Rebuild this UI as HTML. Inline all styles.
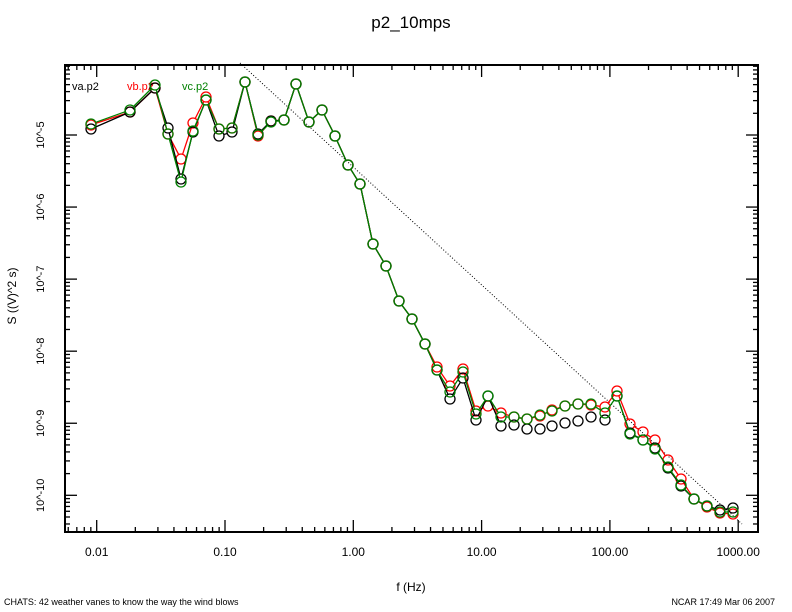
<!DOCTYPE html>
<html><head><meta charset="utf-8"><style>
html,body{margin:0;padding:0;background:#fff;}
svg{display:block;font-family:"Liberation Sans",sans-serif;}
</style></head><body>
<svg id="s" width="792" height="612" viewBox="0 0 792 612" xmlns="http://www.w3.org/2000/svg">
<rect width="792" height="612" fill="#fff"/>
<text x="411" y="28" font-size="17" text-anchor="middle">p2_10mps</text>
<text x="411" y="591" font-size="12" text-anchor="middle">f (Hz)</text>
<text transform="translate(16,296) rotate(-90)" font-size="12" text-anchor="middle">S ((V)^2 s)</text>
<text x="4" y="605" font-size="9">CHATS: 42 weather vanes to know the way the wind blows</text>
<text x="775" y="605" font-size="9" text-anchor="end">NCAR 17:49 Mar 06 2007</text>
<text x="72" y="90" font-size="11">va.p2</text>
<text x="127" y="90" font-size="11" fill="red">vb.p2</text>
<text x="182" y="90" font-size="11" fill="green">vc.p2</text>
<g id="g"></g>
</svg>
<script>
const NS="http://www.w3.org/2000/svg",g=document.getElementById('g');
function el(t,a){const e=document.createElementNS(NS,t);for(const k in a)e.setAttribute(k,a[k]);g.appendChild(e);return e;}
const L=65,R=758,T=65,B=532;
el('rect',{x:L,y:T,width:R-L,height:B-T,fill:'none',stroke:'#000','stroke-width':2});
const X0=96.7,DX=128.3;
for(let d=-3;d<=3;d++){for(let m=1;m<10;m++){const x=X0+(d+2+Math.log10(m))*DX;if(x<L||x>R)continue;const len=m==1?12:5;
el('line',{x1:x,y1:B,x2:x,y2:B-len,stroke:'#000','stroke-width':1.3});el('line',{x1:x,y1:T,x2:x,y2:T+len,stroke:'#000','stroke-width':1.3});}}
const xl=[["0.01",0.01],["0.10",0.1],["1.00",1],["10.00",10],["100.00",100],["1000.00",1000]];
xl.forEach(([s,v])=>{const t=el('text',{x:X0+(Math.log10(v)+2)*DX,y:556,'font-size':12,'text-anchor':'middle'});t.textContent=s;});
const Y0=135,DY=72.06;
for(let d=-11;d<=-3;d++){for(let m=1;m<10;m++){const y=Y0-(d+5+Math.log10(m))*DY;if(y<T||y>B)continue;const len=m==1?12:5;
el('line',{x1:L,y1:y,x2:L+len,y2:y,stroke:'#000','stroke-width':1.3});el('line',{x1:R,y1:y,x2:R-len,y2:y,stroke:'#000','stroke-width':1.3});}}
for(let d=-5;d>=-10;d--){const y=Y0-(d+5)*DY;const t=el('text',{transform:`translate(44,${y}) rotate(-90)`,'font-size':11,'text-anchor':'middle'});t.textContent="10^"+d;}
el('line',{x1:240,y1:63,x2:742,y2:524,stroke:'#000','stroke-width':1,'stroke-dasharray':'1,2'});
const xs=[91,130,155,168,181,193,206,219,232,245,258,271,284,296,309,322,335,348,360,373,386,399,412,425,437,450,463,476,488,501,514,527,540,552,565,578,591,605,617,630,643,655,668,681,694,707,720,733];
const common=[110,136,165,184,244,266,301,319,344];
const blk=[129,112,88,128,179,132,100,136,132,82,134,121,120,84,122,...common,370,399,378,420,396,426,425,429,429,426,423,421,417,420,396,433,440,448,468,486,499,506,510,508];
const red=[125,112,88,134,159,123,97,129,128,82,136,121,120,84,122,...common,367,386,369,411,406,413,417,419,416,410,406,404,405,407,391,424,432,440,460,479,499,507,513,514];
const grn=[124,110,85,134,182,131,100,129,128,82,135,122,120,84,122,...common,370,392,372,414,396,417,417,419,415,411,406,404,404,413,396,434,440,449,467,485,499,506,512,512];
const r=5;
function series(ys,c,skip){let d="";
for(let i=0;i<xs.length-1;i++){if(skip&&i>=29&&i<38)continue;
const x1=xs[i],y1=ys[i],x2=xs[i+1],y2=ys[i+1],dx=x2-x1,dy=y2-y1,l=Math.hypot(dx,dy);if(l<=2*r+1)continue;
const ux=dx/l,uy=dy/l;d+=`M${(x1+ux*r).toFixed(1)},${(y1+uy*r).toFixed(1)}L${(x2-ux*r).toFixed(1)},${(y2-uy*r).toFixed(1)}`;}
el('path',{d:d,fill:'none',stroke:c,'stroke-width':1.3});
for(let i=0;i<xs.length;i++)el('circle',{cx:xs[i],cy:ys[i],r:r,fill:'none',stroke:c,'stroke-width':1.3});}
series(red,'red',false);series(blk,'#000',true);series(grn,'green',false);
</script>
</body></html>
